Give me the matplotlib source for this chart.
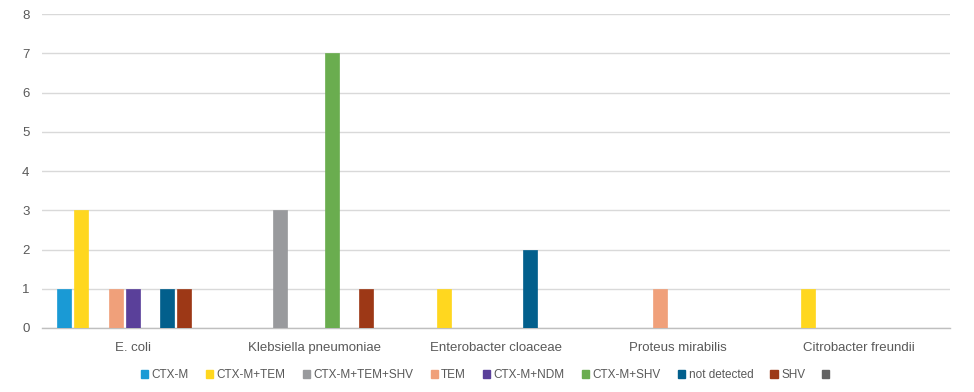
import numpy as np
import matplotlib
matplotlib.use("Agg")
import matplotlib.pyplot as plt
from matplotlib.patches import Patch

plt.rcParams['font.family'] = ['Liberation Sans', 'DejaVu Sans']

categories = ["E. coli", "Klebsiella pneumoniae", "Enterobacter cloaceae",
              "Proteus mirabilis", "Citrobacter freundii"]
series_names = ["CTX-M", "CTX-M+TEM", "CTX-M+TEM+SHV", "TEM", "CTX-M+NDM",
                "CTX-M+SHV", "not detected", "SHV", ""]

ctx_m = [1, 0, 0, 0, 0]
ctx_m_tem = [3, 0, 1, 0, 1]
ctx_m_tem_shv = [0, 3, 0, 0, 0]
tem = [1, 0, 0, 1, 0]
ctx_m_ndm = [1, 0, 0, 0, 0]
ctx_m_shv = [0, 7, 0, 0, 0]
not_detected = [1, 0, 2, 0, 0]
shv = [1, 1, 0, 0, 0]
blank = [0, 0, 0, 0, 0]

values = [ctx_m, ctx_m_tem, ctx_m_tem_shv, tem, ctx_m_ndm,
          ctx_m_shv, not_detected, shv, blank]
colors = ["#1A9AD5", "#FFD71F", "#999A9D", "#F0A07A", "#5A409A",
          "#6AAD4F", "#025F8C", "#9D3816", "#636363"]

fig = plt.figure(figsize=(9.74, 3.92), dpi=100)
ax = fig.add_axes([42/974, 1-328/392, (950-42)/974, (328-14)/392])

x = np.arange(len(categories))
pitch = 0.0947
width = 0.077
for i, (vals, col) in enumerate(zip(values, colors)):
    offs = (i - 4) * pitch
    ax.bar(x + offs, vals, width=width, color=col, edgecolor=col, linewidth=0.5, zorder=3)

ax.set_xlim(-0.5, len(categories) - 0.5)
ax.set_ylim(0, 8)
ax.set_yticks(range(0, 9))
ax.yaxis.grid(True, color="#D9D9D9", linewidth=1, zorder=0)
ax.set_axisbelow(True)
for s in ["top", "right", "left"]:
    ax.spines[s].set_visible(False)
ax.spines["bottom"].set_color("#BFBFBF")
ax.spines["bottom"].set_linewidth(1)
ax.set_xticks(x)
ax.set_xticklabels(categories)
ax.tick_params(axis="both", length=0, colors="#595959", labelsize=9.5)
ax.tick_params(axis="x", pad=10)
ax.tick_params(axis="y", pad=9)

handles = [Patch(facecolor=c, edgecolor=c) for c in colors]
fig.legend(handles, series_names, loc="center", bbox_to_anchor=(487/974, 1-375/392),
           ncol=9, frameon=False, fontsize=8.5, handlelength=0.6, handleheight=0.6,
           handletextpad=0.3, columnspacing=1.45, labelcolor="#595959")

fig.savefig("out.png", dpi=100)
